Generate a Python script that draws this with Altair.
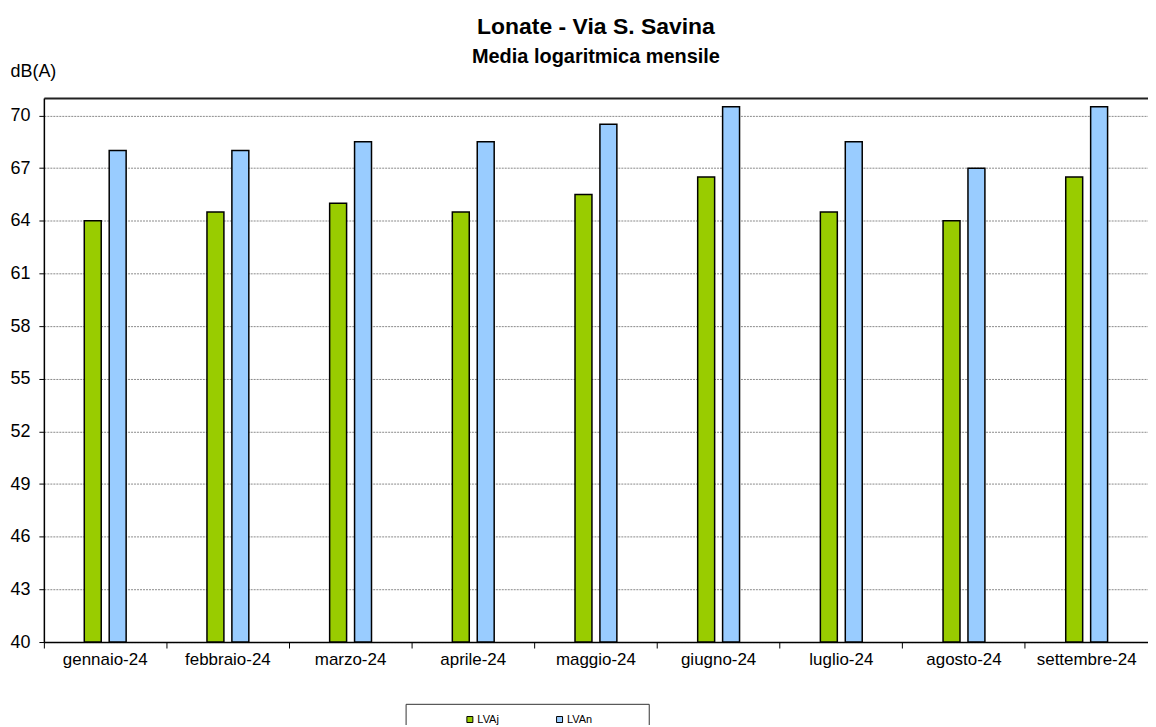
import altair as alt
import pandas as pd

months = ["gennaio-24", "febbraio-24", "marzo-24", "aprile-24", "maggio-24",
          "giugno-24", "luglio-24", "agosto-24", "settembre-24"]
series_names = ["LVAj", "LVAn"]
lvaj = [64.0, 64.5, 65.0, 64.5, 65.5, 66.5, 64.5, 64.0, 66.5]
lvan = [68.0, 68.0, 68.5, 68.5, 69.5, 70.5, 68.5, 67.0, 70.5]
y_ticks = [40, 43, 46, 49, 52, 55, 58, 61, 64, 67, 70]
colors = ["#99CC00", "#99CCFF"]

rows = []
for i, m in enumerate(months):
    rows.append({"mese": m, "serie": series_names[0], "valore": lvaj[i]})
    rows.append({"mese": m, "serie": series_names[1], "valore": lvan[i]})
df = pd.DataFrame(rows)

FONT = "Liberation Sans"
NB = "\u00a0"
ZW = "\u200b"

bars = alt.Chart(df).mark_bar(stroke="black", strokeWidth=1.5).encode(
    x=alt.X("mese:N", sort=months,
            scale=alt.Scale(paddingInner=0.6588, paddingOuter=0.3294),
            axis=alt.Axis(orient="bottom", title=None, labelAngle=0, ticks=False,
                          labelFontSize=17, labelPadding=10, labelColor="black",
                          domain=True, domainColor="black", domainWidth=1.5,
                          grid=False, labelFont=FONT)),
    xOffset=alt.XOffset("serie:N", sort=series_names,
                        scale=alt.Scale(paddingInner=0.32, paddingOuter=0)),
    y=alt.Y("valore:Q",
            scale=alt.Scale(domain=[40, 71], nice=False, zero=False),
            axis=alt.Axis(values=y_ticks, title="dB(A)", titleAngle=0,
                          titleAlign="left", titleBaseline="middle",
                          titleX=-34, titleY=-27, titleFontSize=18,
                          titleFontWeight="normal", titleFont=FONT,
                          titleColor="black",
                          labelFontSize=18, labelFont=FONT, labelColor="black",
                          labelPadding=9, tickSize=5, tickColor="black",
                          domainColor="black", domainWidth=1.5,
                          grid=True, gridColor="#8a8a8a", gridDash=[2, 1],
                          gridWidth=1)),
    y2=alt.datum(40),
    color=alt.Color("serie:N", sort=series_names,
                    scale=alt.Scale(domain=series_names, range=colors),
                    legend=alt.Legend(
                        orient="none", legendX=363, legendY=608,
                        direction="horizontal",
                        title=ZW + NB * 16 + ZW,
                        titleOrient="left", titlePadding=0, titleFontSize=11,
                        titleFont=FONT,
                        symbolType="square", symbolSize=36,
                        symbolStrokeColor="black", symbolStrokeWidth=1,
                        labelFontSize=11, labelFont=FONT, labelColor="black",
                        labelOffset=2,
                        labelExpr="datum.label + '" + NB * 15 + ZW + "'",
                        columnPadding=9, padding=10,
                        strokeColor="#333333", fillColor="white")),
)

ticks_layer = alt.Chart(df).mark_bar(opacity=0).encode(
    x=alt.X("mese:N", sort=months,
            scale=alt.Scale(paddingInner=0, paddingOuter=0),
            axis=alt.Axis(orient="bottom", bandPosition=0, labels=False,
                          domain=False, ticks=True, tickSize=6,
                          tickColor="black", tickWidth=1, grid=False,
                          title=None)),
)

top_layer = alt.Chart(df).mark_bar(opacity=0).encode(
    x=alt.X("mese:N", sort=months,
            scale=alt.Scale(paddingInner=0, paddingOuter=0),
            axis=alt.Axis(orient="top", labels=False, ticks=False,
                          domain=True, domainColor="#222222", domainWidth=2,
                          grid=False, title=None)),
)

chart = alt.layer(bars, ticks_layer, top_layer).resolve_scale(
    x="independent"
).resolve_axis(
    x="independent"
).properties(
    width=1108, height=546,
    padding={"left": 36, "top": 89, "right": 0, "bottom": 82},
    autosize=alt.AutoSizeParams(type="none"),
    title=alt.TitleParams(
        text="Lonate - Via S. Savina",
        subtitle="Media logaritmica mensile",
        fontSize=23, font=FONT, fontWeight="bold", color="black",
        subtitleFontSize=20, subtitleFont=FONT, subtitleFontWeight="bold",
        subtitleColor="black", subtitlePadding=8,
        anchor="middle", offset=-5),
).configure_view(stroke=None).configure(background="white")

chart.save("out.html", embed_options={"renderer": "svg", "actions": False})
